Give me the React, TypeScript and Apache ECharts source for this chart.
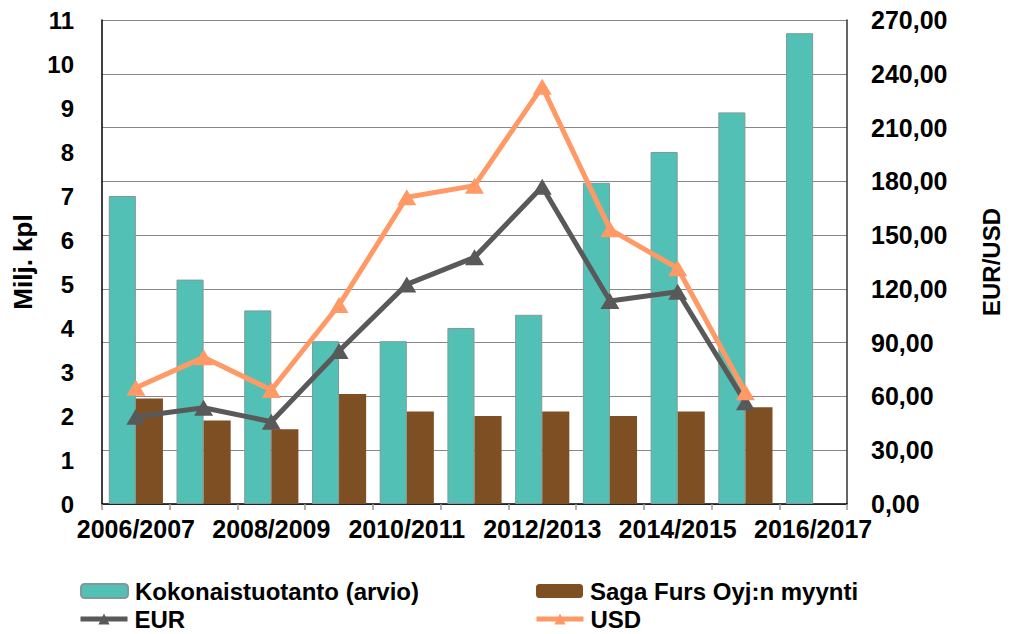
import React, { useEffect, useRef } from "react";
import * as echarts from "echarts";

const categories = [
  "2006/2007", "2007/2008", "2008/2009", "2009/2010", "2010/2011", "2011/2012",
  "2012/2013", "2013/2014", "2014/2015", "2015/2016", "2016/2017",
];
const kokonaistuotanto = [7.0, 5.1, 4.4, 3.7, 3.7, 4.0, 4.3, 7.3, 8.0, 8.9, 10.7];
const sagaFurs = [2.4, 1.9, 1.7, 2.5, 2.1, 2.0, 2.1, 2.0, 2.1, 2.2, null];
const eur = [48.7, 53.7, 45.9, 85.4, 122.5, 137.6, 177.0, 113.2, 118.4, 56.7, null];
const usd = [64.9, 81.8, 63.6, 111.0, 171.1, 177.6, 232.8, 153.2, 131.5, 62.3, null];

const FONT = "'Liberation Sans', Arial, Helvetica, sans-serif";

export default function App() {
  const ref = useRef<HTMLDivElement>(null);
  useEffect(() => {
    if (!ref.current) return;
    const chart = echarts.init(ref.current, null, { renderer: "svg" });
    const textBase = { fontFamily: FONT, fontWeight: "bold" as const, color: "#000", fontSize: 24 };
    const legendCommon = {
      itemWidth: 47,
      itemHeight: 14,
      itemGap: 8,
      textStyle: { ...textBase, padding: [0, 0, 0, 2] },
      padding: 0,
    };
    chart.setOption({
      animation: false,
      backgroundColor: "#fff",
      grid: { left: 102, right: 157, top: 20, bottom: 130, containLabel: false },
      legend: [
        { ...legendCommon, data: ["Kokonaistuotanto (arvio)"], left: 80, top: 579 },
        { ...legendCommon, data: ["Saga Furs Oyj:n myynti"], left: 536, top: 579 },
        { ...legendCommon, data: ["EUR"], left: 78, top: 607, lineStyle: { width: 5 } },
        { ...legendCommon, data: ["USD"], left: 534, top: 607, lineStyle: { width: 5 } },
      ],
      xAxis: {
        type: "category",
        data: categories,
        boundaryGap: true,
        axisLine: { lineStyle: { color: "#000", width: 1.5 } },
        axisTick: { show: true, interval: 0, length: 6, lineStyle: { color: "#999", width: 1.5 } },
        axisLabel: { ...textBase, fontSize: 25, interval: 1, margin: 12 },
        splitLine: { show: false },
      },
      yAxis: [
        {
          type: "value",
          min: 0,
          max: 11,
          interval: 1,
          position: "left",
          name: "Milj. kpl",
          nameLocation: "middle",
          nameGap: 62,
          nameRotate: 90,
          nameTextStyle: { ...textBase, fontSize: 26 },
          axisLine: { show: true, lineStyle: { color: "#000", width: 1.5 } },
          axisTick: { show: false },
          axisLabel: { ...textBase, margin: 28 },
          splitLine: { show: false },
        },
        {
          type: "value",
          min: 0,
          max: 270,
          interval: 30,
          position: "right",
          name: "EUR/USD",
          nameLocation: "middle",
          nameGap: 132,
          nameRotate: 90,
          nameTextStyle: { ...textBase },
          axisLine: { show: true, lineStyle: { color: "#333", width: 1.5 } },
          axisTick: { show: false },
          axisLabel: {
            ...textBase,
            fontSize: 25,
            margin: 24,
            formatter: (v: number) => v.toFixed(2).replace(".", ","),
          },
          splitLine: { show: true, lineStyle: { color: "#888", width: 1 } },
        },
      ],
      series: [
        {
          name: "Kokonaistuotanto (arvio)",
          type: "bar",
          yAxisIndex: 0,
          data: kokonaistuotanto,
          barGap: "0%",
          barCategoryGap: "20%",
          itemStyle: { color: "#52C0B4", borderColor: "#7f9a98", borderWidth: 1 },
        },
        {
          name: "Saga Furs Oyj:n myynti",
          type: "bar",
          yAxisIndex: 0,
          data: sagaFurs,
          barGap: "0%",
          barCategoryGap: "20%",
          itemStyle: { color: "#7F4F24" },
        },
        {
          name: "EUR",
          type: "line",
          yAxisIndex: 1,
          data: eur,
          symbol: "triangle",
          symbolSize: [19, 16],
          lineStyle: { color: "#595959", width: 5 },
          itemStyle: { color: "#595959" },
          z: 3,
        },
        {
          name: "USD",
          type: "line",
          yAxisIndex: 1,
          data: usd,
          symbol: "triangle",
          symbolSize: [19, 16],
          lineStyle: { color: "#FF9966", width: 5 },
          itemStyle: { color: "#FF9966" },
          z: 4,
        },
      ],
    });
    return () => chart.dispose();
  }, []);
  return (
    <div
      ref={ref}
      style={{ position: "absolute", left: 0, top: 0, width: 1011, height: 634 }}
    />
  );
}
